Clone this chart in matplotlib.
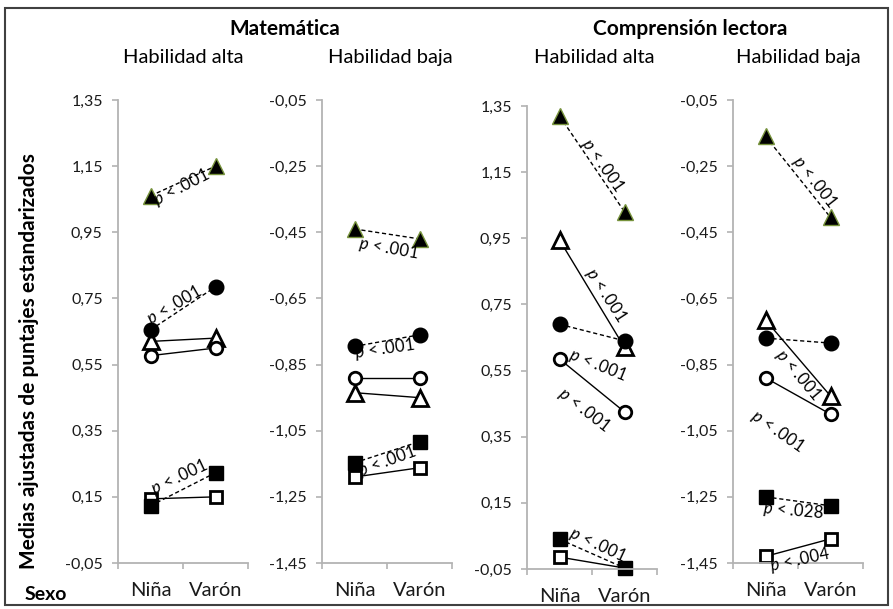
import matplotlib
matplotlib.use('Agg')
import matplotlib.pyplot as plt
from matplotlib.patches import Rectangle
import numpy as np

plt.rcParams['font.family'] = ['Lato', 'DejaVu Sans']
plt.rcParams['mathtext.fontset'] = 'custom'
plt.rcParams['mathtext.it'] = 'Lato:italic'
plt.rcParams['mathtext.rm'] = 'Lato'

# ---------------- data ----------------
categories = ['Niña', 'Varón']
subjects = ['Matemática', 'Comprensión lectora']
levels = ['Habilidad alta', 'Habilidad baja', 'Habilidad alta', 'Habilidad baja']

# panel order: Mat alta, Mat baja, Comp alta, Comp baja
tri_filled = [[1.06, 1.15], [-0.44, -0.47], [1.32, 1.03], [-0.16, -0.405]]
tri_open = [[0.62, 0.63], [-0.935, -0.95], [0.945, 0.62], [-0.715, -0.945]]
circ_filled = [[0.655, 0.785], [-0.795, -0.76], [0.69, 0.64], [-0.77, -0.785]]
circ_open = [[0.577, 0.60], [-0.89, -0.89], [0.585, 0.425], [-0.89, -1.0]]
sq_filled = [[0.123, 0.223], [-1.147, -1.083], [0.04, -0.047], [-1.25, -1.277]]
sq_open = [[0.144, 0.15], [-1.19, -1.162], [-0.014, -0.047], [-1.43, -1.377]]

y_min = [-0.05, -1.45, -0.05, -1.45]
y_max = [1.35, -0.05, 1.35, -0.05]

# p-value annotations per panel: (x, y, rotation, text)
annotations = [
    [(0.47, 1.085, 27, '$p$ < .001'), (0.36, 0.73, 30, '$p$ < .001'), (0.45, 0.21, 25, '$p$ < .001')],
    [(0.52, -0.4975, -10, '$p$ < .001'), (0.47, -0.803, 8, '$p$ < .001'), (0.50, -1.142, 20, '$p$ < .001')],
    [(0.67, 1.172, -55, '$p$ < .001'), (0.715, 0.7785, -57, '$p$ < .001'),
     (0.59, 0.567, -22, '$p$ < .001'), (0.38, 0.431, -38, '$p$ < .001'), (0.59, 0.0226, -25, '$p$ < .001')],
    [(0.76, -0.298, -52, '$p$ < .001'), (0.50, -0.882, -50, '$p$ < .001'), (0.19, -1.051, -35, '$p$ < .001'),
     (0.42, -1.293, -5, '$p$ < .028'), (0.53, -1.441, 12, '$p$ < .004')],
]

# ---------------- layout ----------------
W, H = 893, 609
fig = plt.figure(figsize=(W / 100, H / 100), dpi=100)

panel_px = [(118, 100, 563), (322, 100, 563), (527, 106, 569), (733, 100, 563)]
panel_w = 130

axis_gray = '#B3B3B3'
green_edge = '#77933C'

series_styles = [
    (tri_open, dict(marker='^', ms=11, mfc='white', mec='black', mew=2), '-'),
    (tri_filled, dict(marker='^', ms=11, mfc='black', mec=green_edge, mew=1), '--'),
    (circ_open, dict(marker='o', ms=9, mfc='white', mec='black', mew=2), '-'),
    (circ_filled, dict(marker='o', ms=10.5, mfc='black', mec='black', mew=1), '--'),
    (sq_open, dict(marker='s', ms=9, mfc='white', mec='black', mew=2), '-'),
    (sq_filled, dict(marker='s', ms=9.5, mfc='black', mec='black', mew=1), '--'),
]

x = np.arange(len(categories))

for i, (px, top, bot) in enumerate(panel_px):
    ax = fig.add_axes([px / W, 1 - bot / H, panel_w / W, (bot - top) / H])
    ax.set_facecolor('none')
    for data, mstyle, ls in series_styles:
        linestyle = (0, (3, 2)) if ls == '--' else '-'
        ax.plot(x, data[i], color='black', lw=1.0, ls=linestyle, clip_on=False, **mstyle)
    ax.set_xlim(-0.5, 1.5)
    ax.set_ylim(y_min[i], y_max[i])
    ticks = np.round(np.arange(y_min[i], y_max[i] + 0.001, 0.2), 2)
    ax.set_yticks(ticks)
    ax.set_yticklabels([f"{t:.2f}".replace('.', ',') for t in ticks])
    ax.set_xticks(x)
    ax.set_xticklabels(categories)
    ax.set_xticks([-0.5, 0.5, 1.5], minor=True)
    for s in ['top', 'right']:
        ax.spines[s].set_visible(False)
    for s in ['left', 'bottom']:
        ax.spines[s].set_color(axis_gray)
        ax.spines[s].set_linewidth(1.3)
    ax.tick_params(axis='y', which='major', direction='out', length=4, width=1.2,
                   color=axis_gray, labelsize=11.5, pad=7, labelcolor='#1a1a1a')
    ax.tick_params(axis='x', which='major', length=0, labelsize=14.5, pad=14, labelcolor='#1a1a1a')
    ax.tick_params(axis='x', which='minor', direction='out', length=4, width=1.2, color=axis_gray)
    for (ax_x, ax_y, rot, txt) in annotations[i]:
        ax.text(ax_x, ax_y, txt, rotation=rot, ha='center', va='center', fontsize=12, color='black')

# titles
fig.text(285 / W, 1 - 35 / H, subjects[0], ha='center', va='baseline', fontsize=15, fontweight='bold')
fig.text(690 / W, 1 - 35 / H, subjects[1], ha='center', va='baseline', fontsize=15, fontweight='bold')
for (cx, lab) in zip([183, 390, 594, 798], levels):
    fig.text(cx / W, 1 - 63 / H, lab, ha='center', va='baseline', fontsize=14.5)

fig.text(29 / W, 1 - 361 / H, 'Medias ajustadas de puntajes estandarizados', rotation=90,
         ha='center', va='center', fontsize=15, fontweight='bold')
fig.text(25 / W, 1 - 600 / H, 'Sexo', ha='left', va='baseline', fontsize=14, fontweight='bold')

fig.patches.append(Rectangle((5 / W, 1 - 605 / H), 883 / W, 597 / H, transform=fig.transFigure,
                             fill=False, ec='#404040', lw=1.5))

fig.savefig('out.png', dpi=100)
